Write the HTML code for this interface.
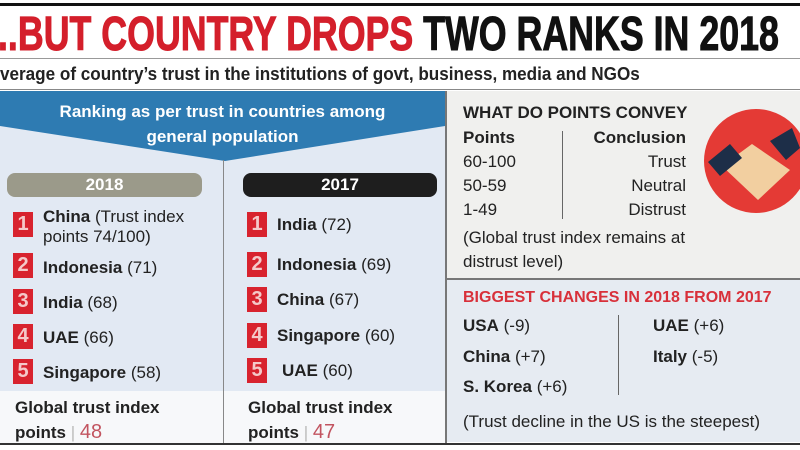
<!DOCTYPE html>
<html><head><meta charset="utf-8"><style>
*{margin:0;padding:0;box-sizing:border-box}
body{width:800px;height:450px;background:#fff;position:relative;overflow:hidden;font-family:"Liberation Sans Narrow","Liberation Sans",sans-serif;color:#222}
.a{position:absolute;white-space:nowrap}
.t{font-size:17px;line-height:20px}
b{font-weight:bold}
.n{position:absolute;width:20px;height:25px;background:#d8232e;color:#f4c9c9;font-weight:bold;font-size:20px;text-align:center;line-height:25px}
.pill{position:absolute;height:24px;border-radius:8px;color:#fff;font-weight:bold;font-size:17px;text-align:center;line-height:24px}
</style></head><body>
<div class="a" style="left:0;top:3px;width:800px;height:3px;background:#111"></div>
<div class="a" style="left:-2px;top:10px;font-size:48px;font-weight:bold;line-height:50px;transform:scaleX(0.745);transform-origin:left;-webkit-text-stroke:1px currentColor"><span style="color:#d41f2b">..BUT COUNTRY DROPS</span> <span style="color:#111">TWO RANKS IN 2018</span></div>
<div class="a" style="left:0;top:58px;width:800px;height:1px;background:#999"></div>
<div class="a" style="left:0;top:63px;font-size:18px;font-weight:bold;line-height:22px;color:#222;transform:scaleX(0.95);transform-origin:left">verage of country’s trust in the institutions of govt, business, media and NGOs</div>
<div class="a" style="left:0;top:89px;width:800px;height:1px;background:#888"></div>
<div class="a" style="left:0;top:91px;width:445px;height:300px;background:#e2e9f3"></div>
<div class="a" style="left:0;top:391px;width:445px;height:54px;background:#f7f8fa"></div>
<svg class="a" style="left:0;top:91px" width="445" height="72"><polygon points="0,0 445,0 445,35 225,70 0,35" fill="#2e7bb2"/></svg>
<div class="a" style="left:0;top:99px;width:445px;text-align:center;color:#fff;font-weight:bold;font-size:17px;line-height:25px;white-space:normal">Ranking as per trust in countries among<br>general population</div>
<div class="a" style="left:223px;top:160px;width:1px;height:285px;background:#888"></div>
<div class="a" style="left:445px;top:91px;width:2px;height:354px;background:#777"></div>
<div class="pill" style="left:7px;top:173px;width:195px;background:#9b9a8a">2018</div>
<div class="a" style="left:153px;top:190px;width:0;height:0;border:7px solid transparent;border-bottom-color:#e2e9f3"></div>
<div class="pill" style="left:243px;top:173px;width:194px;background:#1e1e1e">2017</div>
<div class="a" style="left:397px;top:190px;width:0;height:0;border:7px solid transparent;border-bottom-color:#e2e9f3"></div>

<div class="n" style="left:13px;top:212px">1</div><div class="a t" style="left:43px;top:207px"><b>China</b> (Trust index<br>points 74/100)</div>
<div class="n" style="left:13px;top:253px">2</div><div class="a t" style="left:43px;top:258px"><b>Indonesia</b> (71)</div>
<div class="n" style="left:13px;top:289px">3</div><div class="a t" style="left:43px;top:293px"><b>India</b> (68)</div>
<div class="n" style="left:13px;top:324px">4</div><div class="a t" style="left:43px;top:328px"><b>UAE</b> (66)</div>
<div class="n" style="left:13px;top:359px">5</div><div class="a t" style="left:43px;top:363px"><b>Singapore</b> (58)</div>

<div class="n" style="left:247px;top:212px">1</div><div class="a t" style="left:277px;top:215px"><b>India</b> (72)</div>
<div class="n" style="left:247px;top:252px">2</div><div class="a t" style="left:277px;top:255px"><b>Indonesia</b> (69)</div>
<div class="n" style="left:247px;top:287px">3</div><div class="a t" style="left:277px;top:290px"><b>China</b> (67)</div>
<div class="n" style="left:247px;top:323px">4</div><div class="a t" style="left:277px;top:326px"><b>Singapore</b> (60)</div>
<div class="n" style="left:247px;top:358px">5</div><div class="a t" style="left:282px;top:361px"><b>UAE</b> (60)</div>

<div class="a t" style="left:15px;top:396px;line-height:24px;font-weight:bold">Global trust index<br>points <span style="color:#bbb;font-weight:normal">|</span> <span style="color:#c25460;font-weight:normal;font-size:20px">48</span></div>
<div class="a t" style="left:248px;top:396px;line-height:24px;font-weight:bold">Global trust index<br>points <span style="color:#bbb;font-weight:normal">|</span> <span style="color:#c25460;font-weight:normal;font-size:20px">47</span></div>

<div class="a" style="left:447px;top:91px;width:353px;height:187px;background:#f0f0ee"></div>
<div class="a" style="left:447px;top:278px;width:353px;height:2px;background:#777"></div>
<div class="a" style="left:447px;top:280px;width:353px;height:162px;background:#e6ebf2"></div>
<div class="a" style="left:0;top:443px;width:800px;height:2px;background:#333"></div>

<div class="a" style="left:463px;top:103px;font-size:17px;font-weight:bold;line-height:20px">WHAT DO POINTS CONVEY</div>
<div class="a t" style="left:463px;top:128px;font-weight:bold">Points</div>
<div class="a t" style="left:463px;top:128px;width:223px;text-align:right;font-weight:bold">Conclusion</div>
<div class="a t" style="left:463px;top:152px">60-100</div><div class="a t" style="left:463px;top:152px;width:223px;text-align:right">Trust</div>
<div class="a t" style="left:463px;top:176px">50-59</div><div class="a t" style="left:463px;top:176px;width:223px;text-align:right">Neutral</div>
<div class="a t" style="left:463px;top:200px">1-49</div><div class="a t" style="left:463px;top:200px;width:223px;text-align:right">Distrust</div>
<div class="a" style="left:562px;top:131px;width:1px;height:88px;background:#666"></div>
<div class="a t" style="left:463px;top:226px;line-height:24px">(Global trust index remains at<br>distrust level)</div>
<svg class="a" style="left:700px;top:108px" width="100" height="106">
<circle cx="56" cy="53" r="52" fill="#e43a35"/>
<polygon points="22,58 58,92 90,62 52,36" fill="#f2cfa0"/>
<polygon points="8,54 30,36 42,50 20,68" fill="#1d2e48"/>
<polygon points="70,33 92,20 100,40 86,52" fill="#1d2e48"/>
</svg>

<div class="a" style="left:463px;top:288px;font-size:16px;font-weight:bold;color:#d8303a;line-height:20px">BIGGEST CHANGES IN 2018 FROM 2017</div>
<div class="a t" style="left:463px;top:316px"><b>USA</b> (-9)</div>
<div class="a t" style="left:463px;top:347px"><b>China</b> (+7)</div>
<div class="a t" style="left:463px;top:377px"><b>S. Korea</b> (+6)</div>
<div class="a t" style="left:653px;top:316px"><b>UAE</b> (+6)</div>
<div class="a t" style="left:653px;top:347px"><b>Italy</b> (-5)</div>
<div class="a" style="left:618px;top:315px;width:1px;height:80px;background:#666"></div>
<div class="a t" style="left:463px;top:412px">(Trust decline in the US is the steepest)</div>
</body></html>
